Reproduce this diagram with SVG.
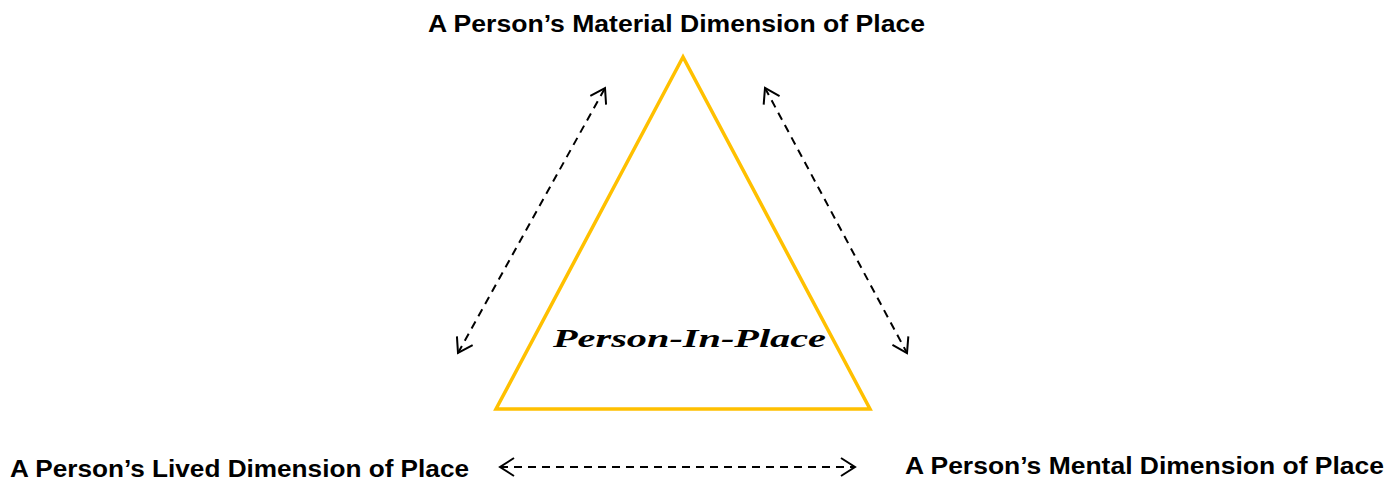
<svg xmlns="http://www.w3.org/2000/svg" width="1400" height="482" viewBox="0 0 1400 482">
<style>
.lbl{font-family:"Liberation Sans",Arial,sans-serif;font-weight:bold;font-size:23px;fill:#000}
.conn{stroke:#000;stroke-width:2;stroke-dasharray:8 6;fill:none}
</style>
<defs>
<marker id="arr" viewBox="0 0 20 20" refX="18" refY="10" markerWidth="20" markerHeight="20" markerUnits="userSpaceOnUse" orient="auto-start-reverse">
<path d="M4,1 L18,10 L4,19" fill="none" stroke="#000" stroke-width="2" stroke-dasharray="none"/>
</marker>
</defs>
<rect width="1400" height="482" fill="#fff"/>
<g id="triangle">
<polygon points="683,57 496,409 870,409" fill="none" stroke="#FFC000" stroke-width="3.5" stroke-linejoin="miter"/>
<text x="553" y="347" font-family="'Liberation Serif',serif" font-style="italic" font-weight="bold" font-size="26" textLength="273" lengthAdjust="spacingAndGlyphs">Person-In-Place</text>
</g>
<g id="material"><text class="lbl" x="428" y="32" textLength="497" lengthAdjust="spacingAndGlyphs">A Person’s Material Dimension of Place</text></g>
<g id="lived"><text class="lbl" x="10" y="477" textLength="459" lengthAdjust="spacingAndGlyphs">A Person’s Lived Dimension of Place</text></g>
<g id="mental"><text class="lbl" x="905" y="474" textLength="479" lengthAdjust="spacingAndGlyphs">A Person’s Mental Dimension of Place</text></g>
<g id="connectors">
<line class="conn" x1="458" y1="353" x2="605" y2="88" marker-start="url(#arr)" marker-end="url(#arr)"/>
<line class="conn" x1="765" y1="88" x2="907" y2="353" marker-start="url(#arr)" marker-end="url(#arr)"/>
<line class="conn" x1="500" y1="467" x2="855" y2="467" marker-start="url(#arr)" marker-end="url(#arr)"/>
</g>
</svg>
